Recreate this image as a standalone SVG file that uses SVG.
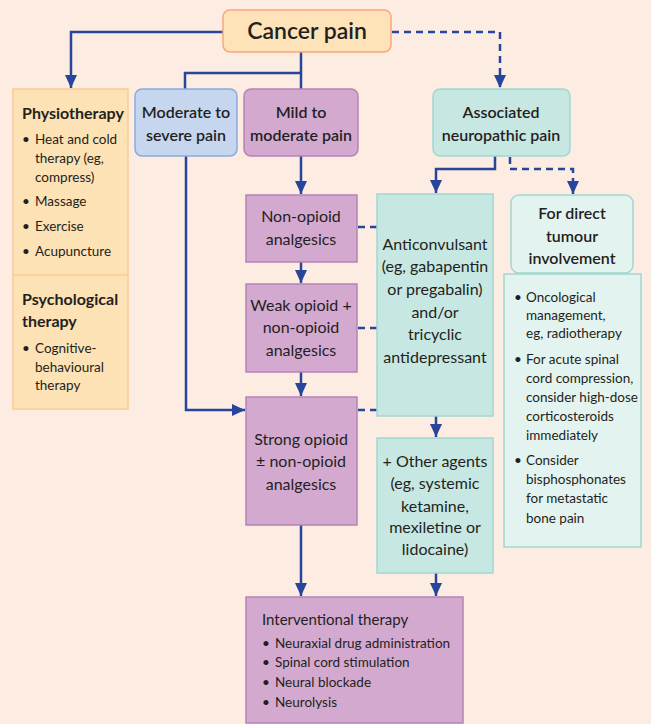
<svg xmlns="http://www.w3.org/2000/svg" width="651" height="724" viewBox="0 0 651 724">
<style>
text{font-family:Lato,"Open Sans","Liberation Sans",sans-serif;fill:#231f20}
.h{font-size:16px;text-anchor:middle}
.hb{font-size:16px;text-anchor:middle;font-weight:600}
.t{font-size:13.5px}
.tb{font-size:16px;font-weight:700}
.c{fill:none;stroke:#26459b;stroke-width:2.5}
.d{stroke-dasharray:7,5}
.orange{fill:#fee3b8;stroke:#f9a67e;stroke-width:1.5}
.physio{fill:#fde2b5;stroke:#f9cc93;stroke-width:1.5}
.blue{fill:#c6d6ef;stroke:#88aadf;stroke-width:1.5}
.purple{fill:#d3a9d0;stroke:#b583b6;stroke-width:1.5}
.teal{fill:#c7e7e3;stroke:#a0d8d0;stroke-width:1.5}
.lteal{fill:#e3f3ef;stroke:#a0d8d0;stroke-width:1.5}
</style>
<defs>
<marker id="ah" markerUnits="userSpaceOnUse" markerWidth="14" markerHeight="14" viewBox="0 0 14 14" refX="13" refY="7" orient="auto">
<path d="M0,1 L13,7 L0,13 Z" fill="#26459b"/>
</marker>
</defs>
<rect x="0" y="0" width="651" height="724" fill="#fdece1"/>

<g id="connectors">
<path class="c" d="M223,32 H71 V88" marker-end="url(#ah)"/>
<path class="c d" d="M392,32 H500 V88" marker-end="url(#ah)"/>
<path class="c" d="M301,52 V89 M301,73 H185 V89"/>
<path class="c" d="M301,156 V194" marker-end="url(#ah)"/>
<path class="c" d="M301,262 V283" marker-end="url(#ah)"/>
<path class="c" d="M301,372 V396" marker-end="url(#ah)"/>
<path class="c" d="M186,156 V410 H245" marker-end="url(#ah)"/>
<path class="c" d="M301,525 V596" marker-end="url(#ah)"/>
<path class="c" d="M495,156 V169 H436 V193" marker-end="url(#ah)"/>
<path class="c d" d="M510,157 V169 H573 V194" marker-end="url(#ah)"/>
<path class="c" d="M436,416 V437" marker-end="url(#ah)"/>
<path class="c" d="M436,573 V596" marker-end="url(#ah)"/>
<path class="c d" d="M358,227 H377 M358,328 H377 M358,410 H377"/>
</g>

<g id="cancer-pain">
<rect class="orange" x="223" y="10" width="168" height="42" rx="7"/>
<text x="307" y="39" style="font-size:23px;font-weight:600;text-anchor:middle">Cancer pain</text>
</g>

<g id="physiotherapy">
<rect class="physio" x="13" y="89" width="115" height="320"/>
<line x1="13" y1="275" x2="128" y2="275" stroke="#f9cc93" stroke-width="1.5"/>
<text class="tb" x="22" y="119">Physiotherapy</text>
<text class="t"><tspan x="22" y="144">•</tspan><tspan x="35" y="144">Heat and cold</tspan><tspan x="35" y="163">therapy (eg,</tspan><tspan x="35" y="182">compress)</tspan><tspan x="22" y="206">•</tspan><tspan x="35" y="206">Massage</tspan><tspan x="22" y="231">•</tspan><tspan x="35" y="231">Exercise</tspan><tspan x="22" y="256">•</tspan><tspan x="35" y="256">Acupuncture</tspan></text>
</g>

<g id="psychological">
<text class="tb" x="22" y="305">Psychological</text>
<text class="tb" x="22" y="327">therapy</text>
<text class="t"><tspan x="22" y="353">•</tspan><tspan x="35" y="353">Cognitive-</tspan><tspan x="35" y="372">behavioural</tspan><tspan x="35" y="390">therapy</tspan></text>
</g>

<g id="moderate-severe">
<rect class="blue" x="135" y="89" width="102" height="67" rx="7"/>
<text class="hb" x="186" y="118">Moderate to</text>
<text class="hb" x="186" y="141">severe pain</text>
</g>

<g id="mild-moderate">
<rect class="purple" x="244" y="89" width="114" height="67" rx="7"/>
<text class="hb" x="301" y="118">Mild to</text>
<text class="hb" x="301" y="141">moderate pain</text>
</g>

<g id="associated">
<rect class="teal" x="433" y="89" width="137" height="67" rx="7"/>
<text class="hb" x="501" y="118">Associated</text>
<text class="hb" x="501" y="141">neuropathic pain</text>
</g>

<g id="non-opioid">
<rect class="purple" x="246" y="195" width="111" height="67"/>
<text class="h" x="301" y="222">Non-opioid</text>
<text class="h" x="301" y="245">analgesics</text>
</g>

<g id="weak-opioid">
<rect class="purple" x="246" y="284" width="111" height="88"/>
<text class="h" x="301" y="311">Weak opioid +</text>
<text class="h" x="301" y="333">non-opioid</text>
<text class="h" x="301" y="356">analgesics</text>
</g>

<g id="strong-opioid">
<rect class="purple" x="246" y="397" width="111" height="128"/>
<text class="h" x="301" y="445">Strong opioid</text>
<text class="h" x="301" y="467">± non-opioid</text>
<text class="h" x="301" y="490">analgesics</text>
</g>

<g id="anticonvulsant">
<rect class="teal" x="377" y="194" width="116" height="222"/>
<text class="h" x="435" y="250">Anticonvulsant</text>
<text class="h" x="435" y="272">(eg, gabapentin</text>
<text class="h" x="435" y="295">or pregabalin)</text>
<text class="h" x="435" y="318">and/or</text>
<text class="h" x="435" y="340">tricyclic</text>
<text class="h" x="435" y="363">antidepressant</text>
</g>

<g id="other-agents">
<rect class="teal" x="377" y="438" width="116" height="135"/>
<text class="h" x="435" y="467">+ Other agents</text>
<text class="h" x="435" y="489">(eg, systemic</text>
<text class="h" x="435" y="512">ketamine,</text>
<text class="h" x="435" y="533">mexiletine or</text>
<text class="h" x="435" y="555">lidocaine)</text>
</g>

<g id="direct-tumour">
<rect class="lteal" x="511" y="195" width="122" height="78" rx="8"/>
<text class="hb" x="572" y="219">For direct</text>
<text class="hb" x="572" y="242">tumour</text>
<text class="hb" x="572" y="264">involvement</text>
</g>

<g id="tumour-measures">
<rect class="lteal" x="504" y="274" width="137" height="273"/>
<text class="t"><tspan x="514" y="302">•</tspan><tspan x="526" y="302">Oncological</tspan><tspan x="526" y="320">management,</tspan><tspan x="526" y="338">eg, radiotherapy</tspan><tspan x="514" y="364">•</tspan><tspan x="526" y="364">For acute spinal</tspan><tspan x="526" y="383">cord compression,</tspan><tspan x="526" y="402">consider high-dose</tspan><tspan x="526" y="421">corticosteroids</tspan><tspan x="526" y="440">immediately</tspan><tspan x="514" y="465">•</tspan><tspan x="526" y="465">Consider</tspan><tspan x="526" y="484">bisphosphonates</tspan><tspan x="526" y="503">for metastatic</tspan><tspan x="526" y="523">bone pain</tspan></text>
</g>

<g id="interventional">
<rect class="purple" x="246" y="597" width="217" height="126"/>
<text x="262" y="625" style="font-size:15px">Interventional therapy</text>
<text class="t"><tspan x="262" y="648">•</tspan><tspan x="275" y="648">Neuraxial drug administration</tspan><tspan x="262" y="667">•</tspan><tspan x="275" y="667">Spinal cord stimulation</tspan><tspan x="262" y="687">•</tspan><tspan x="275" y="687">Neural blockade</tspan><tspan x="262" y="707">•</tspan><tspan x="275" y="707">Neurolysis</tspan></text>
</g>
</svg>
